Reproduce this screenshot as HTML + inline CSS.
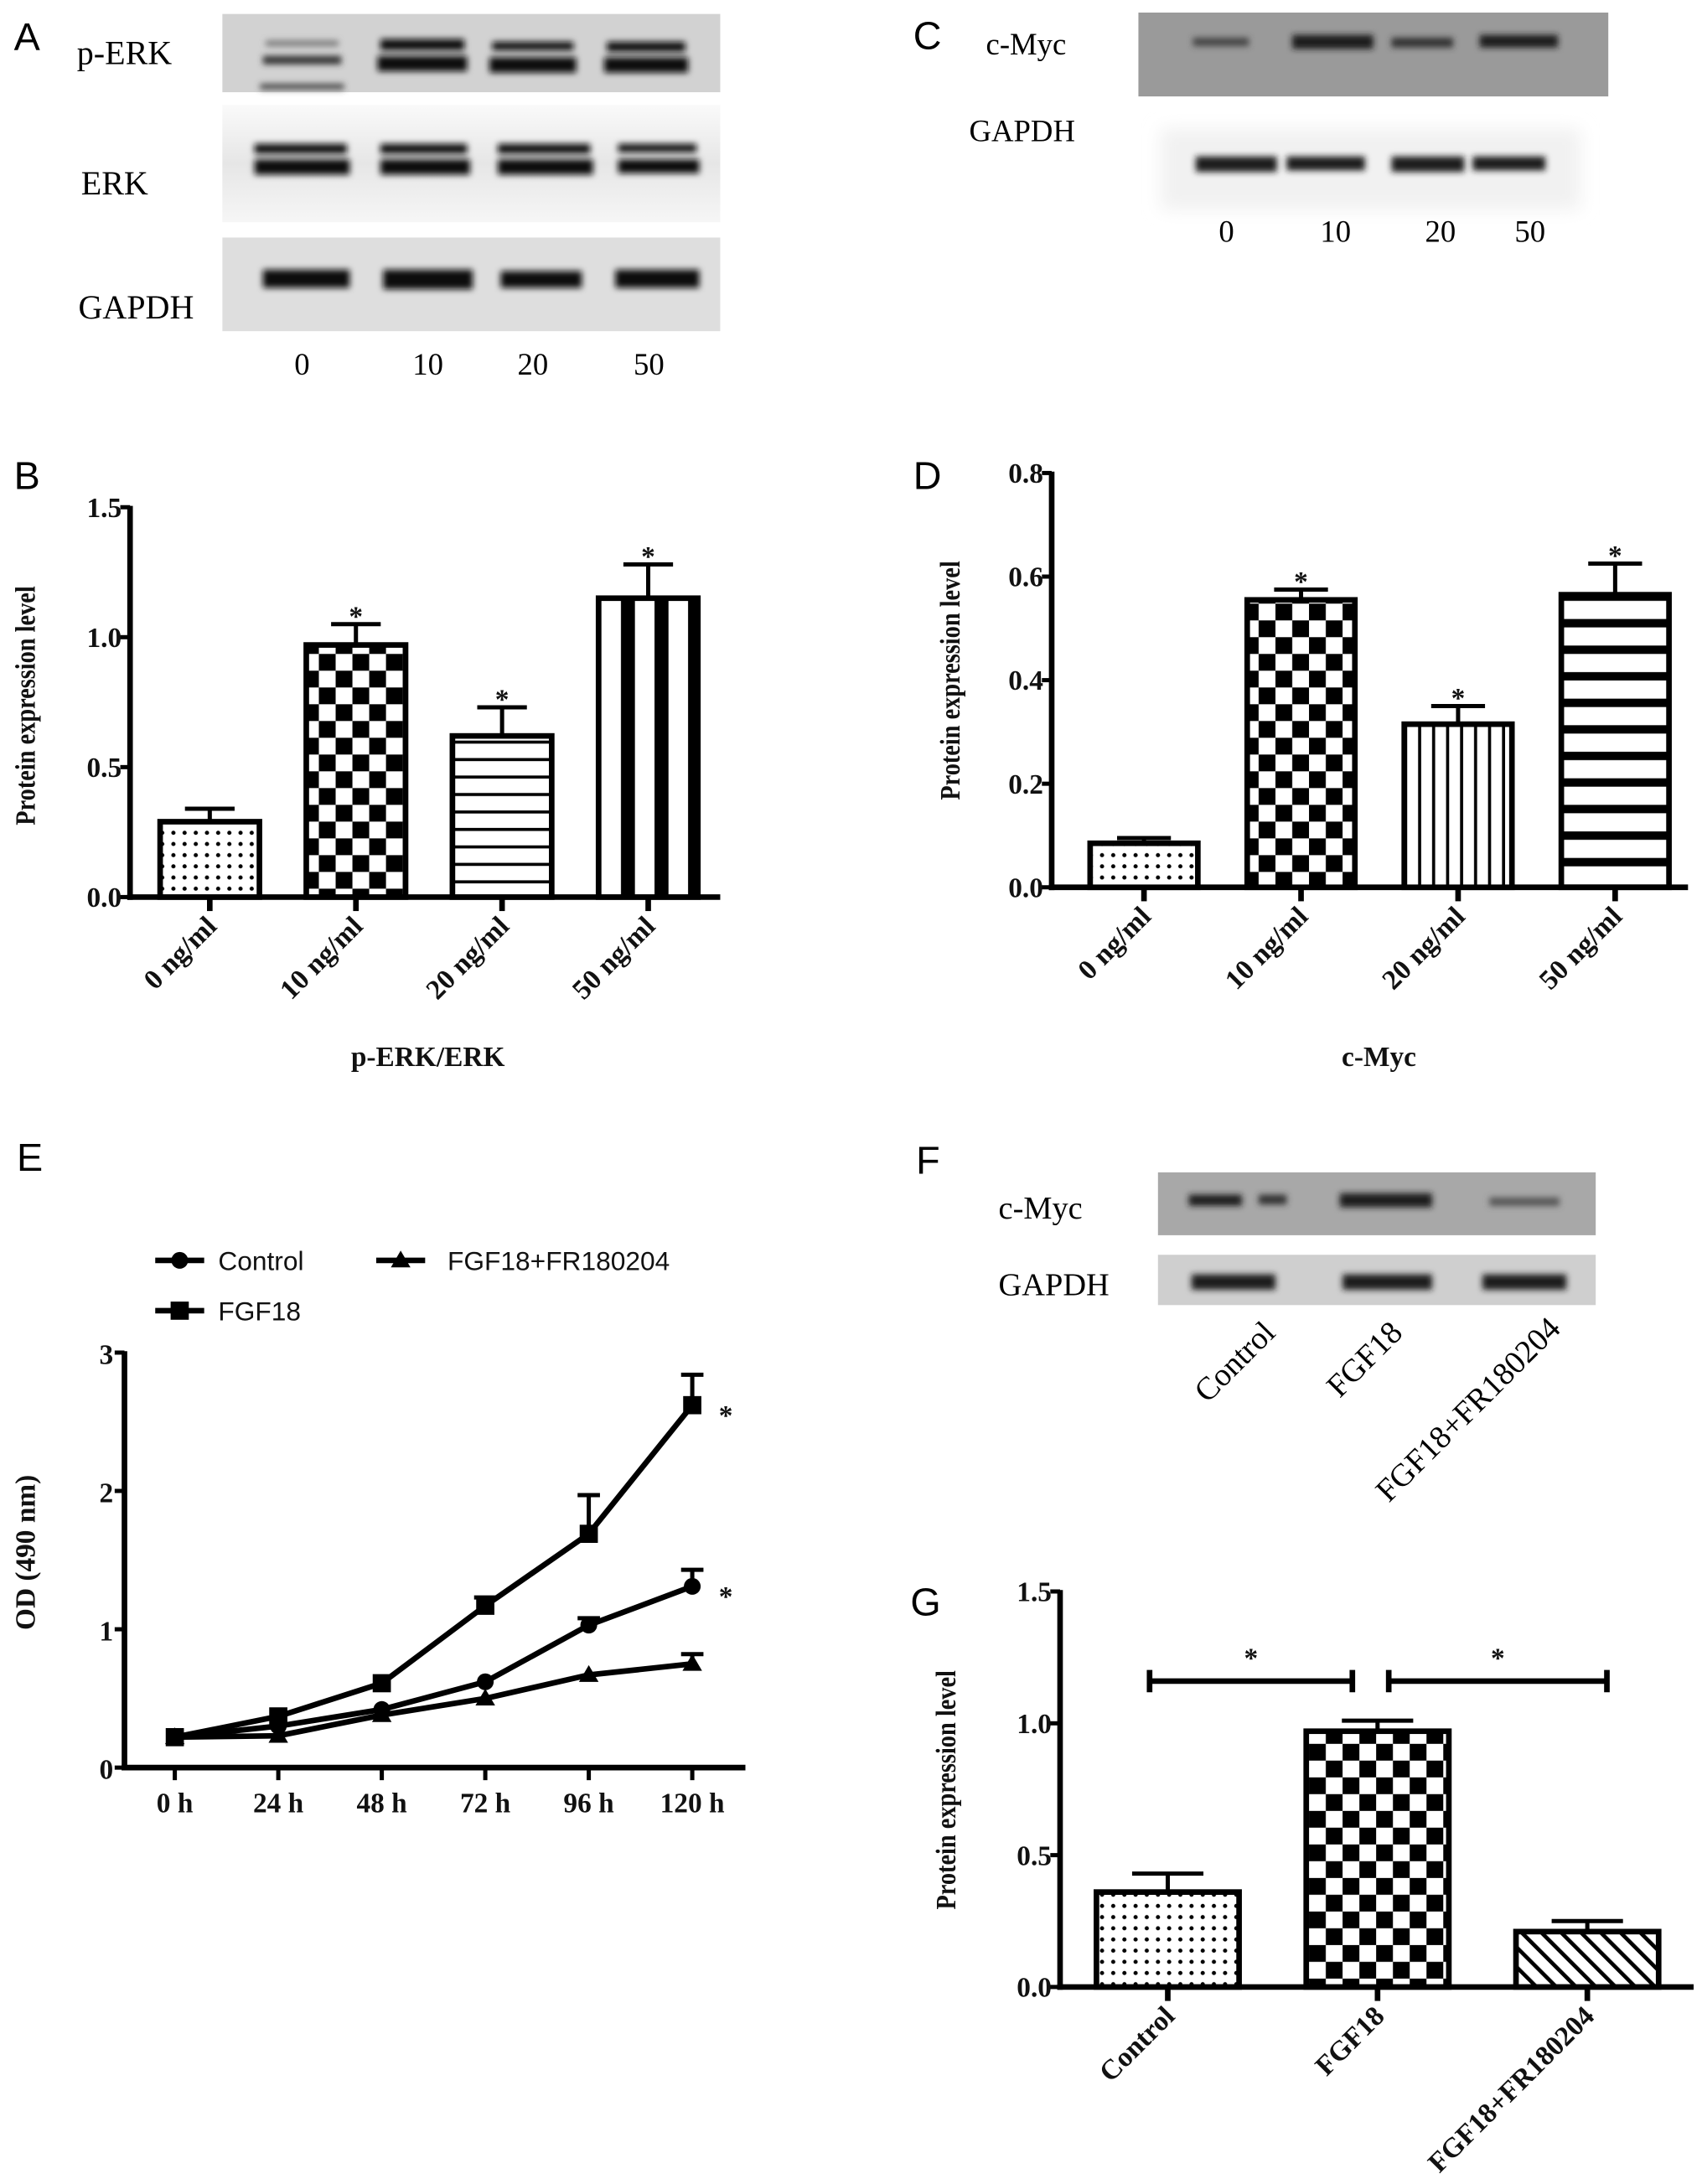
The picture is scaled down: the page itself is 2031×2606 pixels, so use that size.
<!DOCTYPE html>
<html><head><meta charset="utf-8"><title>FGF18 ERK c-Myc figure</title>
<style>
html,body{margin:0;padding:0;background:#fff;}
svg{display:block;}
.ser{font-family:"Liberation Serif","DejaVu Serif",serif;}
.sans{font-family:"Liberation Sans","DejaVu Sans",sans-serif;}
.tick{font-family:"Liberation Serif",serif;font-weight:bold;font-size:20px;fill:#111;}
</style></head>
<body>
<svg id="fig" width="2031" height="2606" viewBox="0 0 1217 1563" preserveAspectRatio="none" xmlns="http://www.w3.org/2000/svg">
<defs>
  <filter id="blur" x="-20%" y="-100%" width="140%" height="300%"><feGaussianBlur stdDeviation="2.2"/></filter>
  <filter id="blurBig" x="-20%" y="-20%" width="140%" height="140%"><feGaussianBlur stdDeviation="6"/></filter>
  <pattern id="dots" patternUnits="userSpaceOnUse" width="8" height="8"><rect width="8" height="8" fill="#fff"/><circle cx="4" cy="4" r="1.5" fill="#000"/></pattern>
  <pattern id="checker" patternUnits="userSpaceOnUse" width="24" height="24"><rect width="24" height="24" fill="#fff"/><rect width="12" height="12" fill="#000"/><rect x="12" y="12" width="12" height="12" fill="#000"/></pattern>
  <pattern id="hstripe" patternUnits="userSpaceOnUse" width="12" height="12.5"><rect width="12" height="12.5" fill="#fff"/><rect y="5" width="12" height="2.2" fill="#000"/></pattern>
  <pattern id="vstripeThick" patternUnits="userSpaceOnUse" x="-2" width="24" height="10"><rect width="24" height="10" fill="#fff"/><rect x="14" width="10" height="10" fill="#000"/></pattern>
  <pattern id="vstripe" patternUnits="userSpaceOnUse" width="10" height="10"><rect width="10" height="10" fill="#fff"/><rect x="4" width="2.2" height="10" fill="#000"/></pattern>
  <pattern id="hstripeThick" patternUnits="userSpaceOnUse" width="10" height="19"><rect width="10" height="19" fill="#fff"/><rect y="6" width="10" height="6" fill="#000"/></pattern>
  <pattern id="hatch" patternUnits="userSpaceOnUse" width="10" height="10" patternTransform="rotate(-45)"><rect width="10" height="10" fill="#fff"/><rect x="0" width="2.8" height="10" fill="#000"/></pattern>
  <linearGradient id="erkbg" x1="0" y1="0" x2="0" y2="1"><stop offset="0" stop-color="#fafafa"/><stop offset="0.5" stop-color="#e6e6e6"/><stop offset="1" stop-color="#f6f6f6"/></linearGradient>
</defs>

<g>
  <text class="sans" x="10" y="36" font-size="28">A</text>
  <text class="ser" x="55" y="46" font-size="24">p-ERK</text>
  <text class="ser" x="58" y="139" font-size="24">ERK</text>
  <text class="ser" x="56" y="228" font-size="24">GAPDH</text>
  <rect x="159" y="10" width="356" height="56" fill="#d2d2d2"/>
  <rect x="159" y="75" width="356" height="84" fill="url(#erkbg)"/>
  <rect x="159" y="170" width="356" height="67" fill="#dedede"/>
  <g filter="url(#blur)" fill="#111">
    <rect x="190" y="29" width="52" height="4" fill="#777"/>
    <rect x="188" y="40" width="56" height="6" fill="#333"/>
    <rect x="186" y="60" width="60" height="4" fill="#444"/>
    <rect x="272" y="28" width="60" height="8"/><rect x="270" y="40" width="64" height="11"/>
    <rect x="352" y="30" width="58" height="6"/><rect x="350" y="41" width="62" height="11"/>
    <rect x="434" y="30" width="56" height="7"/><rect x="432" y="41" width="60" height="11"/>
    <rect x="182" y="103" width="66" height="7"/><rect x="182" y="114" width="68" height="11"/>
    <rect x="272" y="103" width="62" height="7"/><rect x="272" y="114" width="64" height="11"/>
    <rect x="356" y="103" width="66" height="7"/><rect x="356" y="114" width="68" height="11"/>
    <rect x="442" y="103" width="56" height="6"/><rect x="442" y="114" width="58" height="10"/>
    <rect x="188" y="193" width="62" height="13"/><rect x="274" y="193" width="64" height="14"/>
    <rect x="358" y="194" width="58" height="12"/><rect x="440" y="193" width="60" height="13"/>
  </g>
  <text class="ser" y="268" font-size="22" text-anchor="middle"><tspan x="216">0</tspan><tspan x="306">10</tspan><tspan x="381">20</tspan><tspan x="464">50</tspan></text>
</g>

<g>
  <text class="sans" x="653" y="35" font-size="28">C</text>
  <text class="ser" x="705" y="39" font-size="22">c-Myc</text>
  <text class="ser" x="693" y="101" font-size="22">GAPDH</text>
  <rect x="814" y="9" width="336" height="60" fill="#9a9a9a"/>
  <rect x="830" y="92" width="300" height="58" fill="#f1f1f1" filter="url(#blurBig)"/>
  <g filter="url(#blur)" fill="#1a1a1a">
    <rect x="853" y="27" width="40" height="6" fill="#444"/>
    <rect x="924" y="25" width="58" height="10"/>
    <rect x="995" y="27" width="44" height="7" fill="#333"/>
    <rect x="1058" y="25" width="56" height="9"/>
    <rect x="855" y="112" width="58" height="11"/><rect x="920" y="112" width="56" height="10"/>
    <rect x="995" y="112" width="52" height="11"/><rect x="1053" y="112" width="52" height="10"/>
  </g>
  <text class="ser" y="173" font-size="22" text-anchor="middle"><tspan x="877">0</tspan><tspan x="955">10</tspan><tspan x="1030">20</tspan><tspan x="1094">50</tspan></text>
</g>

<g>
  <text class="sans" x="655" y="840" font-size="28">F</text>
  <text class="ser" x="714" y="872" font-size="23">c-Myc</text>
  <text class="ser" x="714" y="927" font-size="23">GAPDH</text>
  <rect x="828" y="839" width="313" height="45" fill="#a8a8a8"/>
  <rect x="828" y="898" width="313" height="36" fill="#cfcfcf"/>
  <g filter="url(#blur)" fill="#1a1a1a">
    <rect x="850" y="855" width="38" height="8"/><rect x="900" y="855" width="20" height="7" fill="#333"/>
    <rect x="958" y="854" width="66" height="10"/>
    <rect x="1065" y="857" width="50" height="6" fill="#555"/>
    <rect x="852" y="912" width="60" height="11"/><rect x="960" y="912" width="64" height="11"/><rect x="1060" y="912" width="60" height="11"/>
  </g>
  <text class="ser" font-size="23" text-anchor="end" transform="translate(913,955) rotate(-45)">Control</text>
  <text class="ser" font-size="23" text-anchor="end" transform="translate(1004,955) rotate(-45)">FGF18</text>
  <text class="ser" font-size="23" text-anchor="end" transform="translate(1117,952) rotate(-45)">FGF18+FR180204</text>
</g>

<text class="sans" x="10" y="350" font-size="28">B</text>
<text class="sans" x="653" y="350" font-size="28">D</text>
<text class="sans" x="12" y="838" font-size="28">E</text>
<text class="sans" x="651" y="1156" font-size="28">G</text>

<g id="chartB"></g>
<g id="chartD"></g>
<g id="chartG"></g>
<g id="chartE"></g>
</svg>

<script>
// ---- Chart B data ----
const bCategories = ["0 ng/ml", "10 ng/ml", "20 ng/ml", "50 ng/ml"];
const bValues = [0.29, 0.97, 0.62, 1.15];
const bErrors = [0.05, 0.08, 0.11, 0.13];
const bTicks = [0.0, 0.5, 1.0, 1.5];
const bTickLabels = ["0.0", "0.5", "1.0", "1.5"];
const bStars = [false, true, true, true];
// ---- Chart D data ----
const dCategories = ["0 ng/ml", "10 ng/ml", "20 ng/ml", "50 ng/ml"];
const dValues = [0.085, 0.555, 0.315, 0.565];
const dErrors = [0.01, 0.02, 0.035, 0.06];
const dTicks = [0.0, 0.2, 0.4, 0.6, 0.8];
const dTickLabels = ["0.0", "0.2", "0.4", "0.6", "0.8"];
const dStars = [false, true, true, true];
// ---- Chart G data ----
const gCategories = ["Control", "FGF18", "FGF18+FR180204"];
const gValues = [0.36, 0.97, 0.21];
const gErrors = [0.07, 0.04, 0.04];
const gTicks = [0.0, 0.5, 1.0, 1.5];
const gTickLabels = ["0.0", "0.5", "1.0", "1.5"];
// ---- Chart E data ----
const eHours = ["0 h", "24 h", "48 h", "72 h", "96 h", "120 h"];
const eControl = [0.22, 0.30, 0.42, 0.62, 1.03, 1.31];
const eControlErr = [0.0, 0.0, 0.0, 0.0, 0.05, 0.12];
const eFGF18 = [0.22, 0.37, 0.61, 1.17, 1.69, 2.62];
const eFGF18Err = [0.0, 0.0, 0.0, 0.06, 0.28, 0.22];
const eFR = [0.22, 0.23, 0.38, 0.50, 0.67, 0.75];
const eFRErr = [0.0, 0.0, 0.0, 0.0, 0.0, 0.07];
const eTicks = [0, 1, 2, 3];
const eTickLabels = ["0", "1", "2", "3"];

const NS = "http://www.w3.org/2000/svg";
function mk(parent, tag, attrs, text) {
  const el = document.createElementNS(NS, tag);
  for (const k in attrs) el.setAttribute(k, attrs[k]);
  if (text !== undefined) el.textContent = text;
  parent.appendChild(el);
  return el;
}

function barChart(g, L, cats, vals, errs, ticks, tickLabels, stars, fills) {
  const ys = v => L.y0 - v * L.unit;
  const xs = i => L.x0 + L.off + i * L.step;
  const ya = mk(g, "line", {x1: L.x0, y1: ys(ticks[ticks.length-1]) - 1, x2: L.x0, y2: L.y0 + 2, stroke: "#000", "stroke-width": 4});
  
  
  const xa = mk(g, "line", {x1: L.x0 - 2, y1: L.y0, x2: L.xEnd, y2: L.y0, stroke: "#000", "stroke-width": 4});
  
  
  ticks.forEach((t, i) => {
    const tl = mk(g, "line", {x1: L.x0 - 7, y1: ys(t), x2: L.x0, y2: ys(t), stroke: "#000", "stroke-width": 3});
    
    
    const tx = mk(g, "text", {x: L.x0 - 6, y: ys(t) + 7, "text-anchor": "end", class: "tick"}, tickLabels[i]);
    
    
  });
  cats.forEach((c, i) => {
    const cx = xs(i);
    const top = ys(vals[i]);
    const bar = mk(g, "rect", {x: cx - L.bw/2, y: top, width: L.bw, height: L.y0 - top, fill: fills[i], stroke: "#000", "stroke-width": 4});
    
    
    const et = ys(vals[i] + errs[i]);
    const ev = mk(g, "line", {x1: cx, y1: top, x2: cx, y2: et, stroke: "#000", "stroke-width": 3});
    
    
    const ec = mk(g, "line", {x1: cx - L.bw/4, y1: et, x2: cx + L.bw/4, y2: et, stroke: "#000", "stroke-width": 3});
    
    
    if (stars && stars[i]) {
      const st = mk(g, "text", {x: cx, y: et + 1, "text-anchor": "middle", class: "tick", "font-size": 22}, "*");
      
      
    }
    const xt = mk(g, "line", {x1: cx, y1: L.y0, x2: cx, y2: L.y0 + 10, stroke: "#000", "stroke-width": 4});
    
    
    const lb = mk(g, "text", {"text-anchor": "end", class: "tick", transform: "translate(" + (cx + 6) + "," + (L.y0 + 22) + ") rotate(-45)"}, c);
    
    
  });
  const yt = mk(g, "text", {class: "tick", "font-size": 20, "text-anchor": "middle", transform: "translate(" + L.ylx + "," + L.yly + ") rotate(-90) scale(0.85,1)"}, L.ytitle);
  
  
  if (L.xtitle) {
    const xt2 = mk(g, "text", {x: L.xtx, y: L.xty, "text-anchor": "middle", class: "tick", "font-size": 21}, L.xtitle);
    
    
  }
  return {xs, ys};
}

barChart(document.getElementById("chartB"),
  {x0: 93, y0: 642, unit: 186, off: 57, step: 104.5, bw: 71, xEnd: 515, ylx: 25, yly: 505, ytitle: "Protein expression level", xtitle: "p-ERK/ERK", xtx: 306, xty: 763},
  bCategories, bValues, bErrors, bTicks, bTickLabels, bStars, ["url(#dots)", "url(#checker)", "url(#hstripe)", "url(#vstripeThick)"]);

barChart(document.getElementById("chartD"),
  {x0: 752, y0: 635, unit: 370.6, off: 66, step: 112.3, bw: 77, xEnd: 1207, ylx: 686, yly: 487, ytitle: "Protein expression level", xtitle: "c-Myc", xtx: 986, xty: 763},
  dCategories, dValues, dErrors, dTicks, dTickLabels, dStars, ["url(#dots)", "url(#checker)", "url(#vstripe)", "url(#hstripeThick)"]);

const gAx = barChart(document.getElementById("chartG"),
  {x0: 758, y0: 1422, unit: 188.7, off: 77, step: 150, bw: 102, xEnd: 1211, ylx: 683, yly: 1281, ytitle: "Protein expression level"},
  gCategories, gValues, gErrors, gTicks, gTickLabels, null, ["url(#dots)", "url(#checker)", "url(#hatch)"]);

(function() {
  const g = document.getElementById("chartG");
  const by = gAx.ys(1.16);
  [[0, 1], [1, 2]].forEach((p, k) => {
    const xa = k === 0 ? gAx.xs(p[0]) - 13 : gAx.xs(p[0]) + 8;
    const xb = k === 0 ? gAx.xs(p[1]) - 18 : gAx.xs(p[1]) + 14;
    const br = mk(g, "path", {d: "M" + xa + "," + (by - 8) + "V" + (by + 8) + "M" + xa + "," + by + "H" + xb + "M" + xb + "," + (by - 8) + "V" + (by + 8), stroke: "#000", "stroke-width": 4, fill: "none"});
    
    
    const st = mk(g, "text", {x: (xa + xb) / 2, y: by - 10, "text-anchor": "middle", class: "tick", "font-size": 22}, "*");
    
    
  });
})();

(function() {
  const g = document.getElementById("chartE");
  const x0 = 89, y0 = 1265, unit = 99, xEnd = 533, off = 36, step = 74;
  const ys = v => y0 - v * unit;
  const xs = i => x0 + off + i * step;
  const ya = mk(g, "line", {x1: x0, y1: ys(3) - 1, x2: x0, y2: y0 + 2, stroke: "#000", "stroke-width": 4});
  
  
  const xa = mk(g, "line", {x1: x0 - 2, y1: y0, x2: xEnd, y2: y0, stroke: "#000", "stroke-width": 4});
  
  
  eTicks.forEach((t, i) => {
    const tl = mk(g, "line", {x1: x0 - 7, y1: ys(t), x2: x0, y2: ys(t), stroke: "#000", "stroke-width": 3});
    
    
    const tx = mk(g, "text", {x: x0 - 8, y: ys(t) + 8, "text-anchor": "end", class: "tick", "font-size": 22}, eTickLabels[i]);
    
    
  });
  eHours.forEach((h, i) => {
    const tl = mk(g, "line", {x1: xs(i), y1: y0, x2: xs(i), y2: y0 + 9, stroke: "#000", "stroke-width": 3});
    
    
    const tx = mk(g, "text", {x: xs(i), y: y0 + 32, "text-anchor": "middle", class: "tick", "font-size": 22}, h);
    
    
  });
  const yt = mk(g, "text", {class: "tick", "font-size": 21, "text-anchor": "middle", transform: "translate(25,1111) rotate(-90)"}, "OD (490 nm)");
  
  

  function marker(parent, kind, x, y, name) {
    let m;
    if (kind === "circle") m = mk(parent, "circle", {cx: x, cy: y, r: 6, fill: "#000"});
    else if (kind === "square") m = mk(parent, "rect", {x: x - 6.5, y: y - 6.5, width: 13, height: 13, fill: "#000"});
    else m = mk(parent, "path", {d: "M" + x + "," + (y - 7) + "L" + (x + 7) + "," + (y + 5) + "L" + (x - 7) + "," + (y + 5) + "Z", fill: "#000"});
    
    
  }
  function series(vals, errs, kind, name) {
    const sg = mk(g, "g", {});
    
    
    const d = vals.map((v, i) => (i ? "L" : "M") + xs(i) + "," + ys(v)).join("");
    const ln = mk(sg, "path", {d: d, stroke: "#000", "stroke-width": 4, fill: "none"});
    
    
    vals.forEach((v, i) => {
      if (errs[i] > 0) {
        const et = ys(v + errs[i]);
        const e = mk(sg, "path", {d: "M" + xs(i) + "," + ys(v) + "V" + et + "M" + (xs(i) - 8) + "," + et + "H" + (xs(i) + 8), stroke: "#000", "stroke-width": 3, fill: "none"});
        
        
      }
      marker(sg, kind, xs(i), ys(v), 'point-' + name);
    });
  }
  series(eFR, eFRErr, "triangle", "fgf18-fr180204");
  series(eControl, eControlErr, "circle", "control");
  series(eFGF18, eFGF18Err, "square", "fgf18");
  const s1 = mk(g, "text", {x: xs(5) + 24, y: ys(eFGF18[5]) + 14, "text-anchor": "middle", class: "tick", "font-size": 22}, "*");
  
  
  const s2 = mk(g, "text", {x: xs(5) + 24, y: ys(eControl[5]) + 14, "text-anchor": "middle", class: "tick", "font-size": 22}, "*");
  
  

  const lg = mk(g, "g", {});
  
  
  const entries = [["Control", "circle", 111, 902, 156], ["FGF18", "square", 111, 938, 156], ["FGF18+FR180204", "triangle", 269, 902, 320]];
  entries.forEach(en => {
    const eg = mk(lg, "g", {});
    
    
    const l = mk(eg, "line", {x1: en[2], y1: en[3], x2: en[2] + 35, y2: en[3], stroke: "#000", "stroke-width": 4});
    
    
    marker(eg, en[1], en[2] + 17.5, en[3], 'legend-marker');
    const t = mk(eg, "text", {x: en[4], y: en[3] + 7, class: "sans", "font-size": 19, fill: "#111"}, en[0]);
    
    
  });
})();
</script>
</body></html>
